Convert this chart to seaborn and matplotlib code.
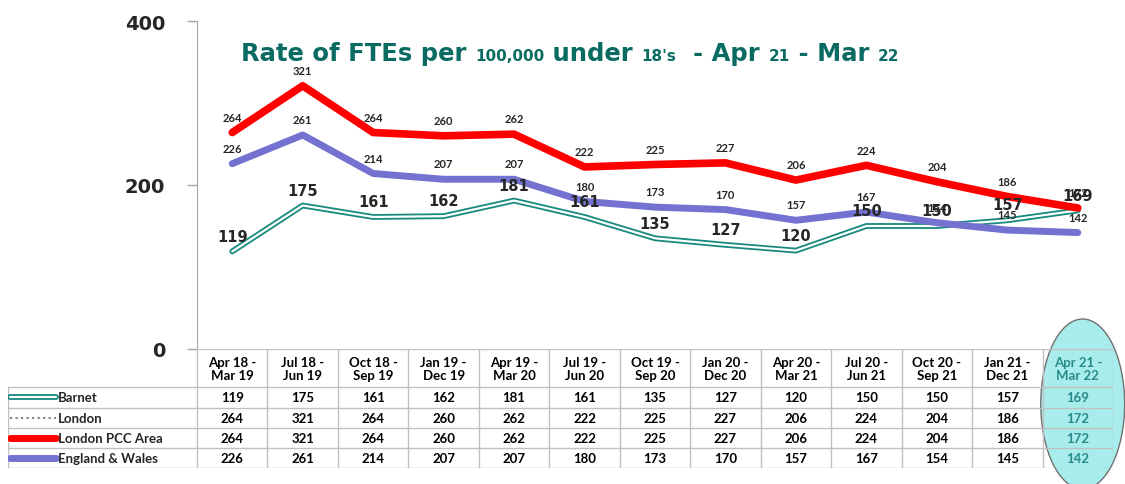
import matplotlib.pyplot as plt
import seaborn as sns
import numpy as np
import pandas as pd
from matplotlib.patches import Ellipse
from matplotlib.lines import Line2D
from matplotlib.offsetbox import TextArea, HPacker, AnchoredOffsetbox

periods = ["Apr 18 -\nMar 19", "Jul 18 -\nJun 19", "Oct 18 -\nSep 19", "Jan 19 -\nDec 19",
           "Apr 19 -\nMar 20", "Jul 19 -\nJun 20", "Oct 19 -\nSep 20", "Jan 20 -\nDec 20",
           "Apr 20 -\nMar 21", "Jul 20 -\nJun 21", "Oct 20 -\nSep 21", "Jan 21 -\nDec 21",
           "Apr 21 -\nMar 22"]
barnet = [119, 175, 161, 162, 181, 161, 135, 127, 120, 150, 150, 157, 169]
london = [264, 321, 264, 260, 262, 222, 225, 227, 206, 224, 204, 186, 172]
london_pcc = [264, 321, 264, 260, 262, 222, 225, 227, 206, 224, 204, 186, 172]
england_wales = [226, 261, 214, 207, 207, 180, 173, 170, 157, 167, 154, 145, 142]
series_names = ["Barnet", "London", "London PCC Area", "England & Wales"]

TEAL = '#17897f'
RED = '#ff0000'
PURPLE = '#7472d0'
GREY = '#808080'

sns.set_style('white')
plt.rcParams['font.family'] = ['Lato', 'DejaVu Sans']

W, H = 1125, 485
fig = plt.figure(figsize=(W / 100, H / 100), dpi=100)


def fx(px):
    return px / W


def fy(py):
    return 1 - py / H


ax = fig.add_axes([fx(197), fy(350), fx(1113) - fx(197), fy(22) - fy(350)])
x = np.arange(len(periods))
df = pd.DataFrame({'x': x, 'barnet': barnet, 'london': london,
                   'pcc': london_pcc, 'ew': england_wales})

# Barnet: double line (teal outline with white core)
sns.lineplot(data=df, x='x', y='barnet', ax=ax, color=TEAL, lw=4.2, zorder=2)
sns.lineplot(data=df, x='x', y='barnet', ax=ax, color='white', lw=1.6, zorder=2.1)
sns.lineplot(data=df, x='x', y='london', ax=ax, color=GREY, lw=1.5, linestyle=':', zorder=3)
sns.lineplot(data=df, x='x', y='pcc', ax=ax, color=RED, lw=5.5, zorder=4)
sns.lineplot(data=df, x='x', y='ew', ax=ax, color=PURPLE, lw=5, zorder=5)

for i in range(len(x)):
    ax.annotate(str(london_pcc[i]), (x[i], london_pcc[i]), xytext=(0, 11), textcoords='offset points',
                ha='center', va='center', fontsize=8, fontweight='bold', zorder=6)
    ax.annotate(str(england_wales[i]), (x[i], england_wales[i]), xytext=(0, 11), textcoords='offset points',
                ha='center', va='center', fontsize=8, fontweight='bold', zorder=6)
    ax.annotate(str(barnet[i]), (x[i], barnet[i]), xytext=(0, 11), textcoords='offset points',
                ha='center', va='center', fontsize=10.5, fontweight='bold', family='DejaVu Sans',
                zorder=6)

ax.set_xlim(-0.5, len(x) - 0.5)
ax.set_ylim(0, 400)
ax.set_yticks([0, 200, 400])
ax.set_yticklabels(['0', '200', '400'], fontsize=14, fontweight='bold', family='DejaVu Sans')
ax.set_xticks([])
ax.set_xlabel('')
ax.set_ylabel('')
ax.tick_params(axis='y', left=True, length=7, width=1, color='#a6a6a6', pad=16)
for s in ['top', 'right', 'bottom']:
    ax.spines[s].set_visible(False)
ax.spines['left'].set_color('#a6a6a6')
ax.patch.set_alpha(0)

# title with small digits
title_color = '#0a6b62'
parts = [("Rate of FTEs per ", 17.5), ("100,000", 11), (" under ", 17.5), ("18's", 11),
         ("  - Apr ", 17.5), ("21", 11), (" - Mar ", 17.5), ("22", 11)]
areas = [TextArea(t, textprops=dict(color=title_color, fontsize=s, fontweight='bold',
                                    family='DejaVu Sans'))
         for t, s in parts]
pack = HPacker(children=areas, align='baseline', pad=0, sep=0)
anc = AnchoredOffsetbox(loc='center', child=pack, bbox_to_anchor=(fx(570), fy(54)),
                        bbox_transform=fig.transFigure, frameon=False, pad=0, borderpad=0)
ax.add_artist(anc)

# data table underneath
tax = fig.add_axes([fx(8), fy(469), fx(1113) - fx(8), fy(350) - fy(469)])
unit = (1113 - 197) / len(x)
left = -0.5 - (197 - 8) / unit
tax.set_xlim(left, len(x) - 0.5)
tax.set_ylim(119, 0)
tax.axis('off')

line_c = '#c0c0c0'
rows = [38, 58.5, 79, 99, 119]
tax.plot([-0.5, len(x) - 0.5], [0, 0], color=line_c, lw=1)
for r in rows:
    tax.plot([left, len(x) - 0.5], [r, r], color=line_c, lw=1)
for k in range(len(x) + 1):
    tax.plot([k - 0.5, k - 0.5], [0, 119], color=line_c, lw=1)
tax.plot([left, left], [38, 119], color=line_c, lw=1)

# highlight ellipse on the last column
tax.add_patch(Ellipse((len(x) - 1 + 0.07, 55), 1.19, 170, facecolor='#a8ecec',
                      edgecolor='#707070', lw=1, zorder=0, clip_on=False))

table_rows = [barnet, london, london_pcc, england_wales]
for i, p in enumerate(periods):
    col = '#2a8a8a' if i == len(x) - 1 else 'black'
    tax.text(i, 19.5, p, ha='center', va='center', fontsize=9.5, fontweight='bold',
             color=col, linespacing=1.15)
    for j, vals in enumerate(table_rows):
        yc = (rows[j] + rows[j + 1]) / 2
        tax.text(i, yc, str(vals[i]), ha='center', va='center', fontsize=9.5,
                 fontweight='bold', color=col)

gx0 = left + 2 / unit
gx1 = left + 48 / unit
styles = [dict(color=TEAL, lw=4.2), dict(color=GREY, lw=1.5, linestyle=':'),
          dict(color=RED, lw=5), dict(color=PURPLE, lw=5)]
for j, name in enumerate(series_names):
    yc = (rows[j] + rows[j + 1]) / 2
    tax.add_line(Line2D([gx0, gx1], [yc, yc], solid_capstyle='round', **styles[j]))
    if j == 0:
        tax.add_line(Line2D([gx0, gx1], [yc, yc], color='white', lw=1.6, solid_capstyle='round'))
    tax.text(left + 50 / unit, yc, name, ha='left', va='center', fontsize=9.5, fontweight='bold')

fig.savefig('out.png', dpi=100)
